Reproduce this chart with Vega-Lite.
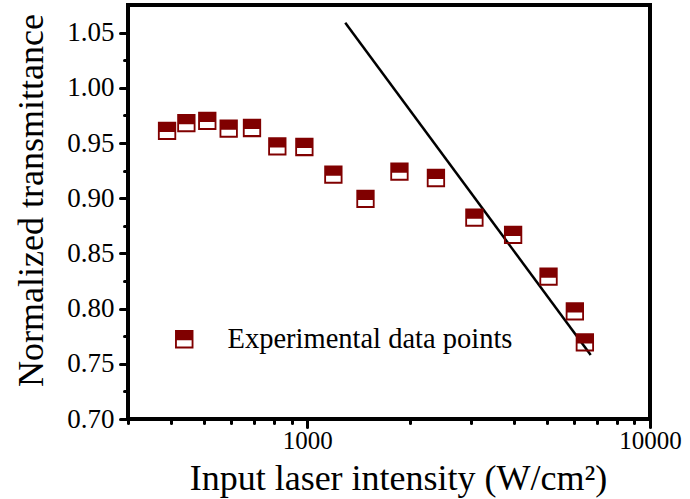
{
  "$schema": "https://vega.github.io/schema/vega-lite/v6.json",
  "width": 522,
  "height": 414,
  "autosize": {"type": "none"},
  "padding": {"left": 128, "top": 5, "right": 40, "bottom": 80},
  "background": "white",
  "config": {
    "view": {"stroke": "black", "strokeWidth": 4},
    "font": "Liberation Serif",
    "axis": {"grid": false, "domain": false, "labelFont": "Liberation Serif", "titleFont": "Liberation Serif", "labelColor": "black", "titleColor": "black", "tickColor": "black", "titleFontWeight": "normal", "tickWidth": 3, "tickCap": "round", "labelFlush": false, "labelOverlap": false},
    "legend": {"labelFont": "Liberation Serif"}
  },
  "datasets": {
    "pts": [
      {"I": 390, "T": 0.961, "series": "Experimental data points"},
      {"I": 444, "T": 0.968, "series": "Experimental data points"},
      {"I": 511, "T": 0.970, "series": "Experimental data points"},
      {"I": 590, "T": 0.963, "series": "Experimental data points"},
      {"I": 690, "T": 0.9636, "series": "Experimental data points"},
      {"I": 818, "T": 0.947, "series": "Experimental data points"},
      {"I": 981, "T": 0.9464, "series": "Experimental data points"},
      {"I": 1192, "T": 0.9214, "series": "Experimental data points"},
      {"I": 1479, "T": 0.8993, "series": "Experimental data points"},
      {"I": 1858, "T": 0.924, "series": "Experimental data points"},
      {"I": 2374, "T": 0.9183, "series": "Experimental data points"},
      {"I": 3074, "T": 0.8824, "series": "Experimental data points"},
      {"I": 3987, "T": 0.8667, "series": "Experimental data points"},
      {"I": 5058, "T": 0.8289, "series": "Experimental data points"},
      {"I": 6036, "T": 0.7975, "series": "Experimental data points"},
      {"I": 6456, "T": 0.7694, "series": "Experimental data points"}
    ],
    "fit": [
      {"I": 1291, "T": 1.059},
      {"I": 6715, "T": 0.758}
    ]
  },
  "encoding": {
    "x": {
      "field": "I", "type": "quantitative",
      "scale": {"type": "log", "domain": [300, 10000], "nice": false},
      "axis": {
        "values": [300, 400, 500, 600, 700, 800, 900, 1000, 2000, 3000, 4000, 5000, 6000, 7000, 8000, 9000, 10000],
        "labelExpr": "(datum.value == 1000 || datum.value == 10000) ? ('' + datum.value) : ''",
        "tickSize": {"condition": {"test": "datum.value == 1000 || datum.value == 10000", "value": 8}, "value": 4},
        "labelFontSize": 25,
        "labelPadding": 1,
        "title": "Input laser intensity (W/cm²)",
        "titleFontSize": 36,
        "titleX": 270,
        "titleY": 70,
        "titleBaseline": "alphabetic",
        "titleAnchor": "middle",
        "titleAlign": "center"
      }
    },
    "y": {
      "field": "T", "type": "quantitative",
      "scale": {"domain": [0.7, 1.075], "nice": false, "zero": false},
      "axis": {
        "values": [0.7, 0.725, 0.75, 0.775, 0.8, 0.825, 0.85, 0.875, 0.9, 0.925, 0.95, 0.975, 1.0, 1.025, 1.05],
        "labelExpr": "round(datum.value*1000) % 50 == 0 ? format(datum.value, '.2f') : ''",
        "tickSize": {"condition": {"test": "round(datum.value*1000) % 50 == 0", "value": 8}, "value": 4},
        "labelFontSize": 27,
        "labelPadding": 6,
        "title": "Normalized transmittance",
        "titleFontSize": 36,
        "titleX": -86,
        "titleY": 195,
        "titleAngle": -90,
        "titleBaseline": "alphabetic",
        "titleAlign": "center"
      }
    }
  },
  "layer": [
    {
      "data": {"name": "fit"},
      "mark": {"type": "line", "color": "black", "strokeWidth": 2.5}
    },
    {
      "data": {"name": "pts"},
      "mark": {
        "type": "point",
        "filled": true,
        "opacity": 1,
        "size": 335,
        "strokeWidth": 0,
        "shape": "M-1,-1H1V1H-1Z M-0.8,0.12V0.78H0.8V0.12Z"
      },
      "encoding": {
        "color": {
          "field": "series", "type": "nominal",
          "scale": {"range": ["#800000"]},
          "legend": {
            "title": null,
            "orient": "none",
            "legendX": 42,
            "legendY": 320,
            "padding": 0,
            "symbolType": "M-1,-1H1V1H-1Z M-0.8,0.12V0.78H0.8V0.12Z",
            "symbolSize": 340,
            "symbolStrokeWidth": 0,
            "symbolOpacity": 1,
            "labelFontSize": 28.5,
            "labelColor": "black",
            "labelOffset": 29,
            "labelLimit": 500
          }
        }
      }
    }
  ]
}
